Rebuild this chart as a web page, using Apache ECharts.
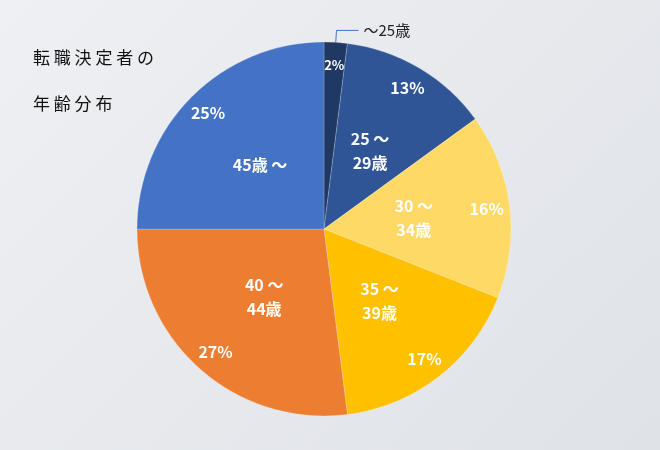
<!DOCTYPE html>
<html><head><meta charset="utf-8">
<script src="https://cdn.jsdelivr.net/npm/echarts@6/dist/echarts.min.js"></script>
<style>html,body{margin:0;padding:0;}#c{width:660px;height:450px;background:linear-gradient(135deg,#eef0f3,#dfe2e7);}</style>
</head><body><div id="c"></div>
<script>
const categories = ['～25歳', '25 ～\n29歳', '30 ～\n34歳', '35 ～\n39歳', '40 ～\n44歳', '45歳 ～'];
const values = [2, 13, 16, 17, 27, 25];
const colors = ['#203864', '#2F5597', '#FFD966', '#FFC000', '#ED7D31', '#4472C4'];
const font = '"Noto Sans CJK JP", sans-serif';
const chart = echarts.init(document.getElementById('c'));
const base = categories.map((n, i) => ({ name: n, value: values[i] }));
const center = [324, 229];
chart.setOption({
  animation: false,
  title: { text: '転 職 決 定 者 の\n年 齢 分 布', left: 28, top: 30,
    textStyle: { fontFamily: font, fontSize: 17, fontWeight: 'normal', color: '#111', lineHeight: 46 } },
  series: [
    { type: 'pie', center, radius: [0, 187], startAngle: 90, clockwise: true, silent: true,
      itemStyle: { borderColor: 'rgba(255,255,255,0.4)', borderWidth: 0.5 },
      data: base.map((d, i) => ({ ...d, itemStyle: { color: colors[i] },
        label: i === 0 ? { show: true, position: 'outside', formatter: '{b}', color: '#222', fontSize: 15, fontFamily: font } : { show: false },
        labelLine: i === 0 ? { show: true, length: 12, length2: 22, lineStyle: { color: '#4472C4', width: 1 } } : { show: false } })) },
    { type: 'pie', center, radius: [0, 322], startAngle: 90, silent: true,
      itemStyle: { color: 'transparent' },
      label: { show: true, position: 'inside', formatter: '{c}%', color: '#fff', fontSize: 16, fontWeight: 'bold', fontFamily: font },
      data: base.map((d, i) => ({ ...d, label: i === 0 ? { fontSize: 13 } : {} })) },
    { type: 'pie', center, radius: [0, 175], startAngle: 90, silent: true,
      itemStyle: { color: 'transparent' },
      label: { show: true, position: 'inside', formatter: '{b}', color: '#fff', fontSize: 16, fontWeight: 'bold', fontFamily: font, lineHeight: 24 },
      data: base.map((d, i) => ({ ...d, label: i === 0 ? { show: false } : {} })) }
  ]
});
</script></body></html>
